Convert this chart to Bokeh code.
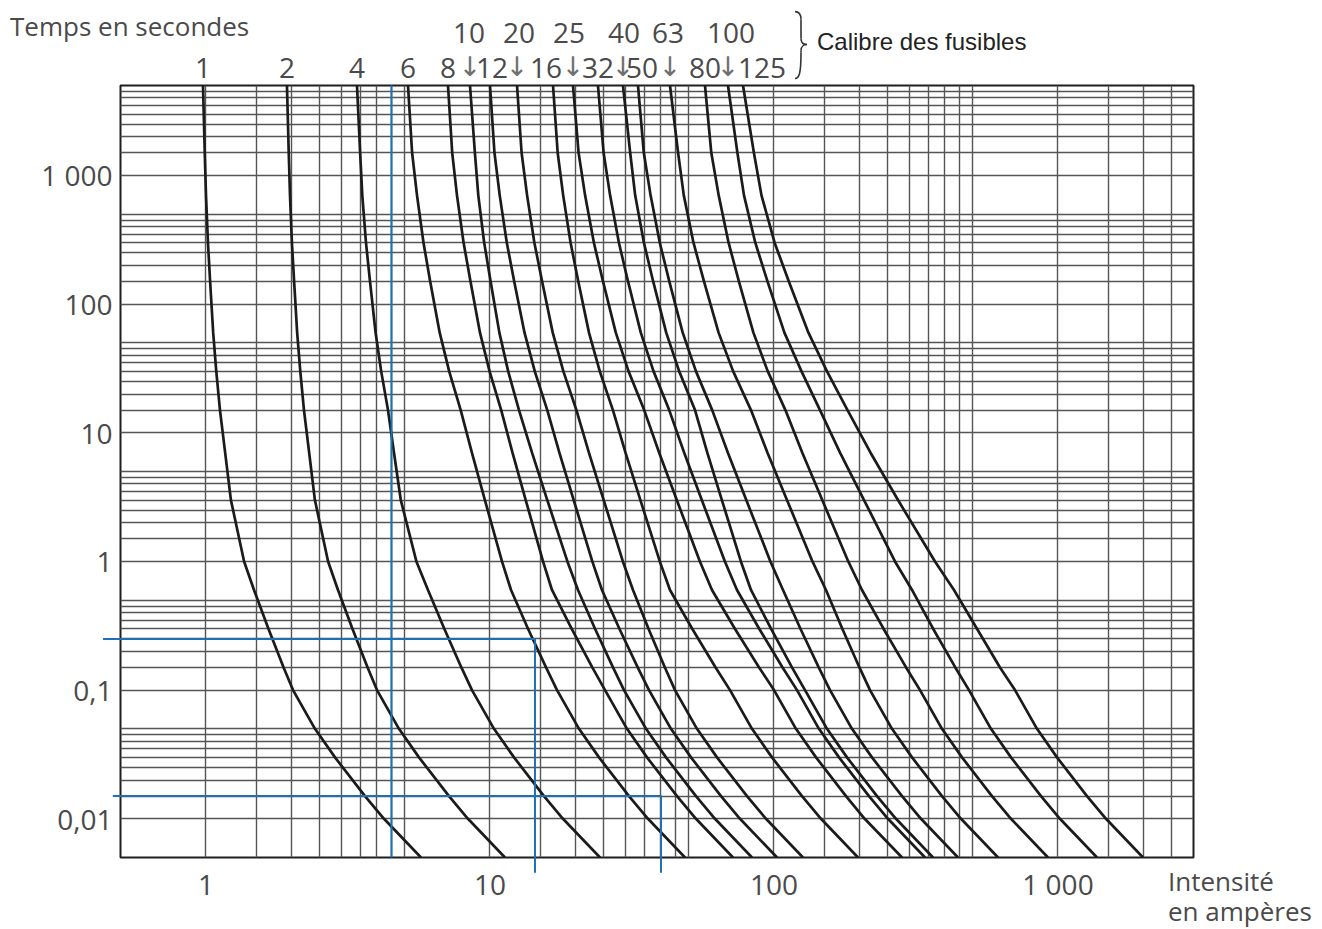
from bokeh.plotting import figure
from bokeh.models import FixedTicker, CustomJSTickFormatter, Range1d
from bokeh.core.properties import value
from bokeh.embed import file_html
from bokeh.resources import INLINE

# ---------------- data ----------------
# times (s) at which each fuse curve was read
times = [5000, 1500, 700, 300, 150, 60, 30, 15, 7, 3, 1, 0.6, 0.3, 0.15,
         0.1, 0.05, 0.03, 0.015, 0.01, 0.005]

# current (A) of each fuse curve at those times
amps_1 = [0.976, 0.99, 1.0, 1.016, 1.034, 1.06, 1.087, 1.12, 1.168, 1.224,
          1.362, 1.476, 1.659, 1.876, 2.025, 2.42, 2.846, 3.63, 4.234, 5.715]
amps_2 = [1.928, 1.956, 1.976, 2.007, 2.043, 2.094, 2.148, 2.213, 2.308, 2.418,
          2.691, 2.916, 3.278, 3.707, 4.001, 4.781, 5.623, 7.172, 8.365, 11.29]
amps_4 = [3.402, 3.489, 3.551, 3.659, 3.78, 3.955, 4.139, 4.374, 4.592, 4.852,
          5.506, 6.049, 6.904, 7.929, 8.642, 10.33, 12.15, 15.49, 18.07, 24.4]
amps_6 = [5.144, 5.318, 5.534, 5.833, 6.158, 6.651, 7.184, 7.886, 8.635, 9.595,
          11.02, 11.86, 13.61, 15.75, 17.22, 20.58, 24.2, 30.86, 36.0, 48.6]
amps_8 = [7.114, 7.361, 7.652, 8.073, 8.538, 9.221, 9.968, 10.95, 12.0, 13.36,
          15.37, 16.53, 19.38, 22.92, 25.41, 30.37, 35.71, 45.55, 53.13, 71.72]
amps_10 = [8.503, 8.848, 9.095, 9.541, 10.05, 10.79, 11.59, 12.65, 14.06, 15.91,
           18.73, 20.41, 23.43, 27.11, 29.64, 35.44, 41.66, 53.13, 61.98, 83.67]
amps_12 = [10.0, 10.37, 10.82, 11.46, 12.17, 13.23, 14.38, 15.91, 17.55, 19.71,
           22.92, 24.79, 28.55, 33.12, 36.3, 43.38, 51.02, 65.07, 75.91, 102.5]
amps_20 = [12.45, 12.92, 13.51, 14.33, 15.26, 16.63, 18.13, 20.15, 22.3, 25.14,
           29.37, 31.88, 36.15, 41.29, 44.81, 53.56, 62.99, 80.34, 93.72, 126.5]
amps_16 = [16.67, 17.31, 18.1, 19.22, 20.46, 22.31, 24.36, 27.09, 30.0, 33.85,
           39.62, 43.03, 51.52, 62.28, 70.0, 83.67, 98.39, 125.5, 146.4, 197.6]
amps_25 = [19.6, 20.51, 21.62, 23.22, 25.0, 27.73, 30.76, 34.91, 39.42, 45.47,
           54.84, 60.49, 72.83, 88.62, 100.0, 119.5, 140.6, 179.3, 208.6, 282.4]
amps_32 = [24.0, 25.12, 26.48, 28.44, 30.62, 33.96, 37.67, 42.76, 48.28, 55.69,
           67.16, 74.08, 88.69, 107.2, 120.5, 144.0, 169.4, 216.0, 252.0, 340.2]
amps_40 = [29.4, 31.16, 32.45, 34.83, 37.55, 41.73, 46.37, 52.71, 58.23, 65.54,
           76.46, 82.98, 97.59, 115.7, 128.6, 153.7, 180.7, 230.5, 268.9, 363.0]
amps_50 = [33.2, 34.8, 36.77, 39.62, 42.79, 47.7, 53.13, 60.59, 68.81, 79.88,
           97.12, 107.6, 123.9, 143.7, 157.5, 188.2, 221.3, 282.4, 329.3, 444.5]
amps_63 = [43.03, 45.95, 48.13, 52.06, 56.69, 63.81, 71.84, 82.98, 94.86, 111.1,
           136.6, 152.4, 174.0, 199.9, 217.8, 260.3, 306.2, 390.4, 455.5, 615.1]
amps_80 = [57.15, 60.15, 63.87, 69.2, 75.23, 84.62, 95.1, 109.7, 125.8, 147.9,
           182.6, 204.1, 243.0, 291.8, 326.7, 390.4, 459.2, 585.6, 683.2, 922.1]
amps_100 = [68.87, 74.33, 78.41, 85.93, 94.86, 108.8, 125.0, 145.2, 170.8, 207.5,
            266.7, 306.2, 363.3, 434.9, 486.0, 580.9, 683.2, 871.3, 1016.0, 1372.0]
amps_125 = [77.78, 84.96, 90.36, 100.5, 112.8, 132.2, 153.7, 181.5, 218.7, 273.3,
            368.9, 430.3, 518.5, 624.8, 705.7, 843.5, 991.9, 1265.0, 1476.0, 1992.0]

ratings = ["1", "2", "4", "6", "8", "10", "12", "20", "16", "25", "32",
           "40", "50", "63", "80", "100", "125"]
curves = [amps_1, amps_2, amps_4, amps_6, amps_8, amps_10, amps_12, amps_20,
          amps_16, amps_25, amps_32, amps_40, amps_50, amps_63, amps_80,
          amps_100, amps_125]

# labels above the chart: upper row (with arrow) and lower row
upper_labels = ["10", "20", "25", "40", "63", "100"]
lower_labels = ["1", "2", "4", "6", "8", "12", "16", "32", "50", "80", "125"]

# blue reading lines (A, s)
blue_full_x = [4.5, 4.5]
blue_full_y = [0.005, 5000]
blue_a_x = [0.434, 14.4, 14.4]
blue_a_y = [0.25, 0.25, 0.0038]
blue_b_x = [0.47, 40, 40]
blue_b_y = [0.015, 0.015, 0.0038]

x_ticks = [1, 10, 100, 1000]
y_ticks = [0.01, 0.1, 1, 10, 100, 1000]
grid_steps = [1, 1.5, 2, 2.5, 3, 3.5, 4, 4.5, 5]

# ---------------- figure ----------------
X0, X1 = 0.5, 3000
Y0, Y1 = 0.005, 5000
FRAME_L, FRAME_R, FRAME_T, FRAME_B = 120, 1193, 85, 857

p = figure(width=1322, height=929, x_axis_type="log", y_axis_type="log",
           x_range=Range1d(X0, X1), y_range=Range1d(Y0, Y1),
           output_backend="svg", toolbar_location=None,
           min_border_left=FRAME_L, min_border_right=1322 - FRAME_R,
           min_border_top=FRAME_T, min_border_bottom=929 - FRAME_B)
p.background_fill_color = "white"
p.border_fill_color = "white"
p.outline_line_color = "#1e1e1e"
p.outline_line_width = 2

grid_x = [s * 10.0 ** k for k in range(-1, 4) for s in grid_steps if X0 <= s * 10.0 ** k <= X1]
grid_y = [s * 10.0 ** k for k in range(-3, 4) for s in grid_steps if Y0 <= s * 10.0 ** k <= Y1]
p.xgrid.ticker = FixedTicker(ticks=grid_x)
p.ygrid.ticker = FixedTicker(ticks=grid_y)
for g in (p.xgrid, p.ygrid):
    g.grid_line_color = "#555555"
    g.grid_line_width = 1.4
    g.grid_line_alpha = 1.0

fmt = CustomJSTickFormatter(code="""
if (tick >= 1000) { return (tick / 1000).toFixed(0) + " 000"; }
return String(tick).replace(".", ",");
""")
for ax, ticks in ((p.xaxis, x_ticks), (p.yaxis, y_ticks)):
    ax.ticker = FixedTicker(ticks=ticks)
    ax.formatter = fmt
    ax.axis_line_color = None
    ax.major_tick_line_color = None
    ax.minor_tick_line_color = None
    ax.major_tick_out = 0
    ax.major_tick_in = 0
    ax.major_label_text_font = "Open Sans"
    ax.major_label_text_font_size = "28px"
    ax.major_label_text_color = "#4a4a4a"
p.yaxis.major_label_standoff = 8
p.xaxis.major_label_standoff = 7

# fuse curves
for amps in curves:
    p.line(amps, times, line_color="#1b1b1b", line_width=2.7)

# blue reading lines (overlay level: allowed to run past the frame)
blue = "#1f6fb2"
for xs, ys in ((blue_full_x, blue_full_y), (blue_a_x, blue_a_y), (blue_b_x, blue_b_y)):
    p.line(xs, ys, line_color=blue, line_width=2, level="overlay")

# ---------------- texts (placed in page pixels, converted through the scales) ----------------
def px2x(px):
    return 10 ** ((px - 206) / 284.0)

def py2y(py):
    return 10 ** ((561 - py) / 128.7)

txt_col = "#4a4a4a"

def put_text(xs, ys, texts, size="28px", font="Open Sans", color=txt_col,
             align="center", dx=None):
    p.text(x=xs, y=ys, text=texts, x_offset=dx if dx is not None else 0,
           text_align=align, text_baseline="middle",
           text_font=value(font), text_font_size=value(size),
           text_color=color, level="overlay")

curve_of = dict(zip(ratings, curves))
upper_dx = {"10": -1, "20": 2, "25": -4, "40": 1, "63": -2, "100": 3}
lower_dx = {"16": -7, "50": 4, "125": 19, "12": 2}

put_text([curve_of[l][0] for l in upper_labels], [py2y(32)] * len(upper_labels),
         upper_labels, dx=[upper_dx.get(l, 0) for l in upper_labels])
put_text([curve_of[l][0] for l in upper_labels], [py2y(66)] * len(upper_labels),
         ["\u2193"] * len(upper_labels), size="27px", font="DejaVu Sans", color="#707070")
put_text([curve_of[l][0] for l in lower_labels], [py2y(67)] * len(lower_labels),
         lower_labels, dx=[lower_dx.get(l, 0) for l in lower_labels])

put_text([px2x(10)], [py2y(25)], ["Temps en secondes"], size="26px", align="left")
put_text([px2x(1168), px2x(1168)], [py2y(881), py2y(911)],
         ["Intensit\u00e9", "en amp\u00e8res"], size="26px", align="left")
put_text([px2x(817)], [py2y(41)], ["Calibre des fusibles"], size="24px",
         font="Liberation Sans", color="#222222", align="left")

# brace  }
bx0, bx1, bx2 = 795, 801, 807
p.bezier(x0=[px2x(bx0), px2x(bx1), px2x(bx2), px2x(bx1)],
         y0=[py2y(11), py2y(38), py2y(44), py2y(52)],
         x1=[px2x(bx1), px2x(bx2), px2x(bx1), px2x(bx0)],
         y1=[py2y(19), py2y(44), py2y(50), py2y(78)],
         cx0=[px2x(799), px2x(bx1), px2x(804), px2x(bx1)],
         cy0=[py2y(11), py2y(42), py2y(44), py2y(74)],
         cx1=[px2x(bx1), px2x(803), px2x(bx1), px2x(799)],
         cy1=[py2y(14), py2y(44), py2y(46), py2y(78)],
         line_color="#333333", line_width=1.6, level="overlay")
p.segment(x0=[px2x(bx1), px2x(bx1)], y0=[py2y(19), py2y(50)],
          x1=[px2x(bx1), px2x(bx1)], y1=[py2y(38), py2y(52)],
          line_color="#333333", line_width=1.6, level="overlay")

open("out.html", "w").write(file_html(p, INLINE))
